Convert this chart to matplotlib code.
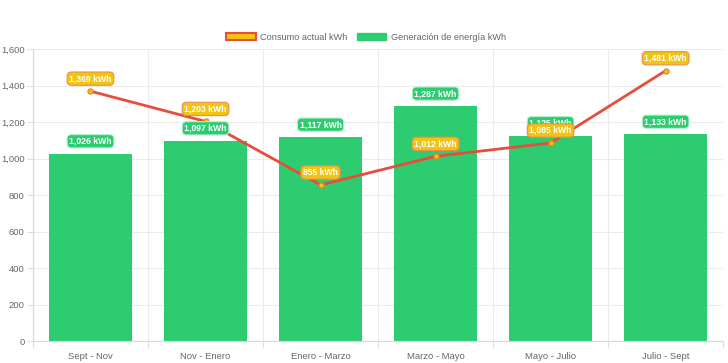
import matplotlib.pyplot as plt
from matplotlib.patches import Patch
import numpy as np

# data
periodos = ["Sept - Nov", "Nov - Enero", "Enero - Marzo", "Marzo - Mayo", "Mayo - Julio", "Julio - Sept"]
consumo = [1369, 1203, 855, 1012, 1085, 1481]
generacion = [1026, 1097, 1117, 1287, 1125, 1133]

verde = "#2ecc71"
rojo = "#e74c3c"
amarillo = "#f1c40f"
gris = "#666666"

plt.rcParams['font.family'] = ['Liberation Sans', 'DejaVu Sans']

fig = plt.figure(figsize=(7.28, 3.63), dpi=100)
ax = fig.add_axes([0.0453, 0.0606, 0.948, 0.8044])

x = np.arange(len(periodos))
ax.bar(x, generacion, width=0.72, color=verde, zorder=2)
ax.plot(x, consumo, color=rojo, linewidth=2, zorder=3)
ax.scatter(x, consumo, s=14, color=amarillo, edgecolor="#e67e22", linewidth=0.8, zorder=4)

# value labels
for xi, v in zip(x, generacion):
    ax.annotate(f"{v:,} kWh", (xi, v), xytext=(0, 9), textcoords="offset points",
                ha="center", va="center", fontsize=6.2, fontweight="bold", color="white",
                bbox=dict(boxstyle="round,pad=0.25,rounding_size=0.5", fc=verde, ec="#b8f0cf", lw=0.8),
                zorder=5)
for xi, v in zip(x, consumo):
    ax.annotate(f"{v:,} kWh", (xi, v), xytext=(0, 9), textcoords="offset points",
                ha="center", va="center", fontsize=6.2, fontweight="bold", color="white",
                bbox=dict(boxstyle="round,pad=0.25,rounding_size=0.5", fc=amarillo, ec="#ef8a5a", lw=0.8),
                zorder=6)

ax.set_xlim(-0.5, len(periodos) - 0.5)
ax.set_ylim(0, 1600)
ax.set_yticks(range(0, 1601, 200))
ax.yaxis.set_major_formatter(plt.FuncFormatter(lambda v, p: f"{int(v):,}"))
ax.set_xticks(x)
ax.set_xticklabels(periodos)
ax.set_xticks(np.arange(-0.5, len(periodos)), minor=True)

ax.tick_params(axis="x", which="major", length=0, labelsize=6.8, colors=gris, pad=8)
ax.tick_params(axis="x", which="minor", length=5, color="#e0e0e0", width=0.8)
ax.tick_params(axis="y", length=4, color="#e0e0e0", labelsize=6.8, colors=gris, width=0.8, pad=2)

ax.grid(axis="y", color="#ebebeb", linewidth=0.8, zorder=0)
ax.grid(axis="x", which="minor", color="#ebebeb", linewidth=0.8, zorder=0)
ax.set_axisbelow(True)
for s in ["top", "right"]:
    ax.spines[s].set_visible(False)
for s in ["left", "bottom"]:
    ax.spines[s].set_color("#d8d8d8")
    ax.spines[s].set_linewidth(0.8)

handles = [Patch(facecolor=amarillo, edgecolor=rojo, linewidth=1.5, label="Consumo actual kWh"),
           Patch(facecolor=verde, edgecolor=verde, label="Generación de energía kWh")]
fig.legend(handles=handles, loc="center", bbox_to_anchor=(0.503, 0.898), ncol=2, frameon=False,
           fontsize=6.6, labelcolor=gris, handlelength=3.2, handleheight=0.9, columnspacing=1.0,
           handletextpad=0.5)

fig.savefig("out.png", dpi=100)
